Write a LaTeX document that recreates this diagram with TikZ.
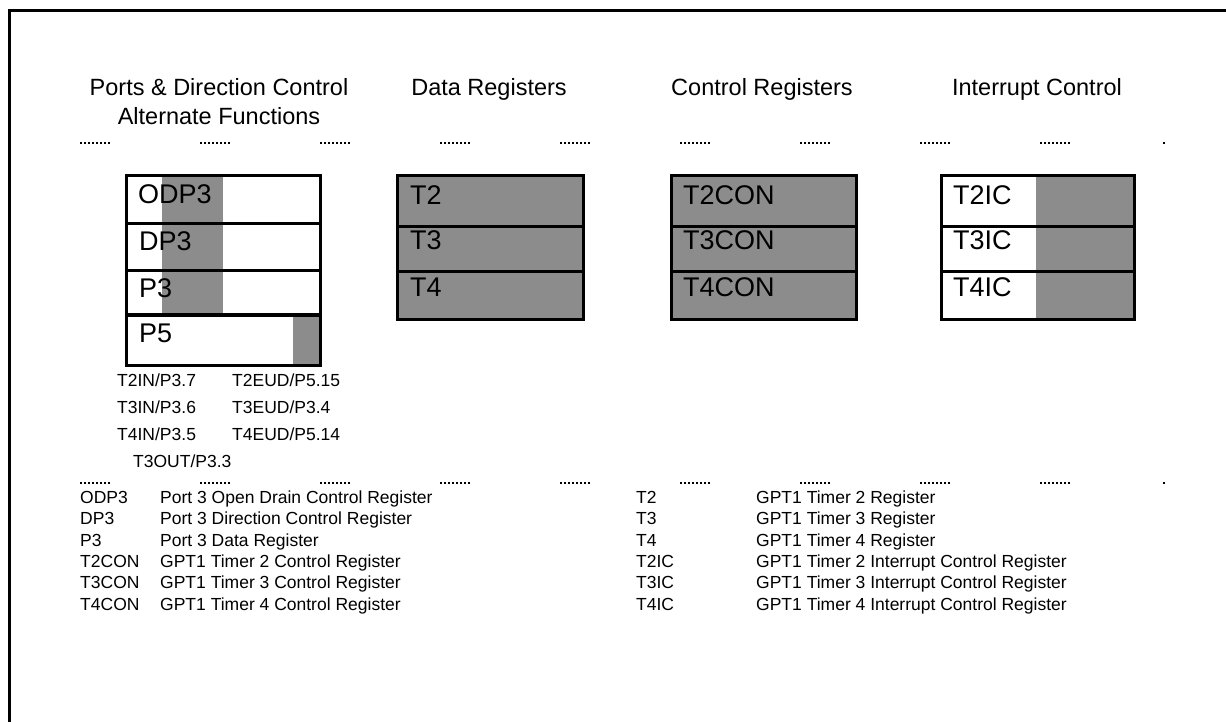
\documentclass[tikz,border=0pt]{standalone}
\usepackage{fontspec}
\setmainfont{Liberation Sans}
\begin{document}
\begin{tikzpicture}[x=1pt,y=-1pt,
  hdr/.style={font=\fontsize{23.5}{27}\selectfont, anchor=base, inner sep=0},
  lbl/.style={font=\fontsize{27}{30}\selectfont, anchor=base west, inner sep=0},
  sml/.style={font=\fontsize{17.5}{20}\selectfont, anchor=base west, inner sep=0},
  cell/.style={draw, line width=3pt, rectangle, inner sep=0, anchor=north west},
  shade/.style={fill=black!45},
  tick/.style={line width=2pt, dash pattern=on 2pt off 2pt}]
\useasboundingbox (0,0) rectangle (1226,722);
% frame
\draw[line width=3pt] (9.5,722) -- (9.5,10.5) -- (1226,10.5);
% headers
\node[hdr] (h1) at (219,96) {Ports \& Direction Control};
\node[hdr] (h1b) at (219,125) {Alternate Functions};
\node[hdr] (h2) at (489,96) {Data Registers};
\node[hdr] (h3) at (762,96) {Control Registers};
\node[hdr] (h4) at (1037,96) {Interrupt Control};
% tab marks
\foreach \k in {0,...,8}{
  \draw[tick] ({80+120*\k},143) -- ++(30,0);
  \draw[tick] ({80+120*\k},483) -- ++(30,0);
}
\draw[tick] (1163,143) -- ++(3,0);
\draw[tick] (1163,483) -- ++(3,0);
% Ports box
\fill[shade] (162,174) rectangle (223,313);
\fill[shade] (293,315) rectangle (319,364);
\node[cell, minimum width=194pt, minimum height=48pt] (odp3) at (125,174) {};
\node[cell, minimum width=194pt, minimum height=47pt] (dp3) at (125,222) {};
\node[cell, minimum width=194pt, minimum height=44pt] (p3) at (125,269) {};
\node[cell, minimum width=194pt, minimum height=50pt] (p5) at (125,314) {};
\node[lbl] (todp3) at (138,204) {ODP3};
\node[lbl] (tdp3) at (139,251) {DP3};
\node[lbl] (tp3) at (139,297) {P3};
\node[lbl] (tp5) at (139,342) {P5};
% Data registers
\fill[shade] (396,174) rectangle (582,318);
\node[cell, minimum width=186pt, minimum height=51pt] (t2) at (396,174) {};
\node[cell, minimum width=186pt, minimum height=45pt] (t3) at (396,225) {};
\node[cell, minimum width=186pt, minimum height=48pt] (t4) at (396,270) {};
\node[lbl] (tt2) at (410,205) {T2};
\node[lbl] (tt3) at (410,250) {T3};
\node[lbl] (tt4) at (410,296) {T4};
% Control registers
\fill[shade] (670,174) rectangle (855,318);
\node[cell, minimum width=185pt, minimum height=51pt] (t2con) at (670,174) {};
\node[cell, minimum width=185pt, minimum height=45pt] (t3con) at (670,225) {};
\node[cell, minimum width=185pt, minimum height=48pt] (t4con) at (670,270) {};
\node[lbl] (tt2con) at (683,205) {T2CON};
\node[lbl] (tt3con) at (683,250) {T3CON};
\node[lbl] (tt4con) at (683,296) {T4CON};
% Interrupt control
\fill[shade] (1036,174) rectangle (1133,318);
\node[cell, minimum width=193pt, minimum height=51pt] (t2ic) at (940,174) {};
\node[cell, minimum width=193pt, minimum height=45pt] (t3ic) at (940,225) {};
\node[cell, minimum width=193pt, minimum height=48pt] (t4ic) at (940,270) {};
\node[lbl] (tt2ic) at (953,205) {T2IC};
\node[lbl] (tt3ic) at (953,250) {T3IC};
\node[lbl] (tt4ic) at (953,296) {T4IC};
% alternate functions
\node[sml] (a1) at (117,386) {T2IN/P3.7};
\node[sml] (a2) at (117,413) {T3IN/P3.6};
\node[sml] (a3) at (117,440) {T4IN/P3.5};
\node[sml] (a4) at (133,467) {T3OUT/P3.3};
\node[sml] (b1) at (232,386) {T2EUD/P5.15};
\node[sml] (b2) at (232,413) {T3EUD/P3.4};
\node[sml] (b3) at (232,440) {T4EUD/P5.14};
% legend
\foreach \y/\a/\d/\c/\e [count=\i] in {
 503/ODP3/Port 3 Open Drain Control Register/T2/GPT1 Timer 2 Register,
 524/DP3/Port 3 Direction Control Register/T3/GPT1 Timer 3 Register,
 546/P3/Port 3 Data Register/T4/GPT1 Timer 4 Register,
 567/T2CON/GPT1 Timer 2 Control Register/T2IC/GPT1 Timer 2 Interrupt Control Register,
 588/T3CON/GPT1 Timer 3 Control Register/T3IC/GPT1 Timer 3 Interrupt Control Register,
 610/T4CON/GPT1 Timer 4 Control Register/T4IC/GPT1 Timer 4 Interrupt Control Register}{
  \node[sml] (la\i) at (80,\y) {\a};
  \node[sml] (ld\i) at (160,\y) {\d};
  \node[sml] (ra\i) at (636,\y) {\c};
  \node[sml] (rd\i) at (756,\y) {\e};
}
\end{tikzpicture}
\end{document}
